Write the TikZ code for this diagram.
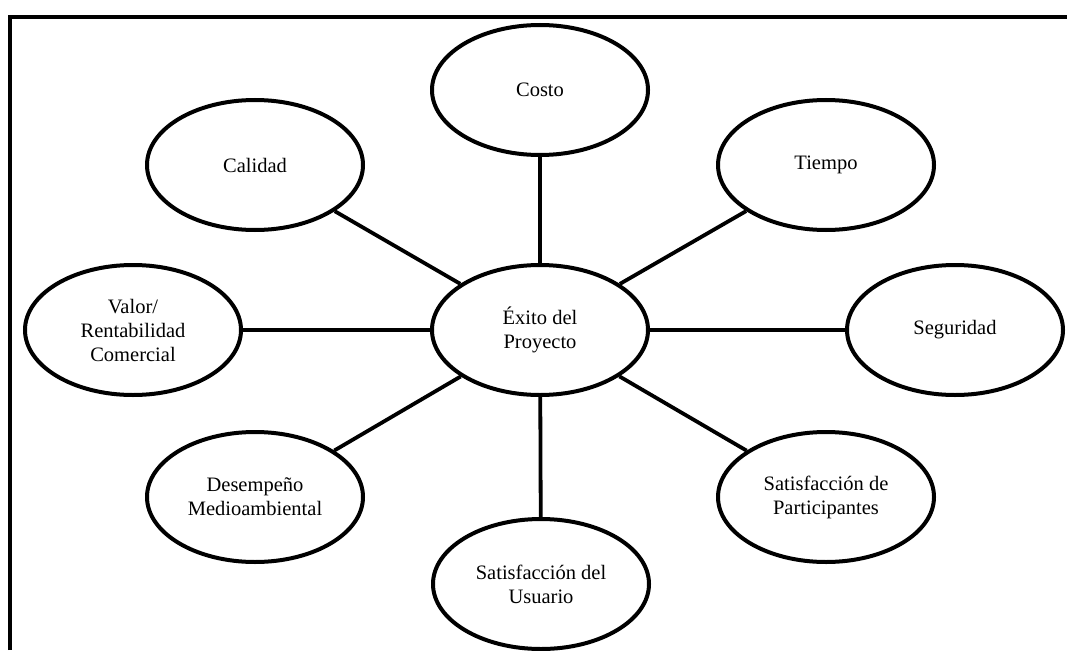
\documentclass[tikz,border=0pt]{standalone}
\usepackage{fontspec}
\setmainfont{Liberation Serif}
\usetikzlibrary{shapes.geometric}
\begin{document}
\begin{tikzpicture}[x=1pt,y=-1pt,
  factor/.style={ellipse, draw, line width=4pt, minimum width=216pt,
    minimum height=130pt, inner sep=0pt, align=center,
    font=\fontsize{20.5}{24}\selectfont},
  link/.style={line width=3.8pt}]
\useasboundingbox (0,0) rectangle (1067,650);
% frame
\draw[line width=4pt] (10,650) -- (10,17) -- (1067,17);
% factors
\node[factor] (centro) at (540,330) {Éxito del\\Proyecto};
\node[factor] (costo) at (540,90) {Costo};
\node[factor] (calidad) at (255,165) {Calidad};
\node[factor] (tiempo) at (826,165) {Tiempo};
\node[factor] (valor) at (133,330) {Valor/\\Rentabilidad\\Comercial};
\node[factor] (seguridad) at (955,330) {Seguridad};
\node[factor] (desempeno) at (255,497) {Desempeño\\Medioambiental};
\node[factor] (participantes) at (826,497) {Satisfacción de\\Participantes};
\node[factor] (usuario) at (541,584) {Satisfacción del\\Usuario};
% connectors
\foreach \n in {costo,calidad,tiempo,valor,seguridad,desempeno,participantes,usuario}
  \draw[link] (centro) -- (\n);
\end{tikzpicture}
\end{document}
